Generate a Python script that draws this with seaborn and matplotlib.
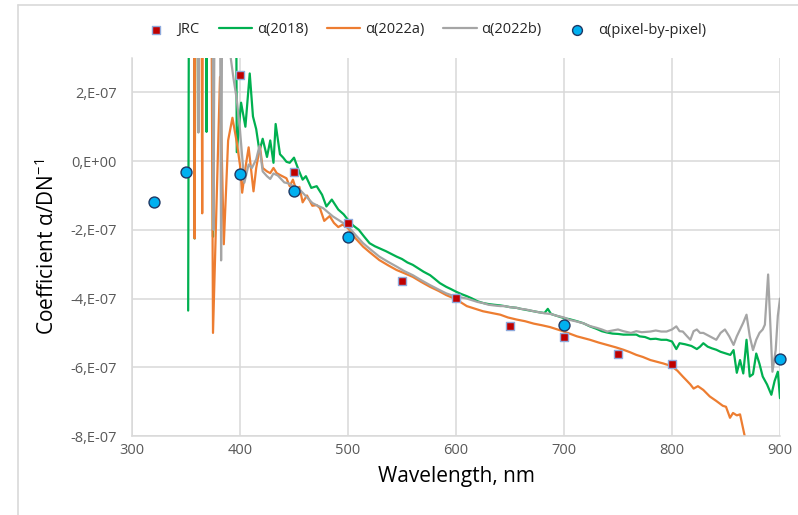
import matplotlib
matplotlib.use("Agg")
import matplotlib.pyplot as plt
import seaborn as sns
import numpy as np
from matplotlib.ticker import FuncFormatter
from matplotlib.lines import Line2D

# ---------------- data (coefficient values in units of 1E-07) ----------------
SCALE = 1e-7

jrc_wl = [400, 450, 500, 550, 600, 650, 700, 750, 800]
jrc_val = [2.5, -0.32, -1.81, -3.5, -3.98, -4.81, -5.12, -5.61, -5.9]

pix_wl = [320, 350, 400, 450, 500, 700, 900]
pix_val = [-1.2, -0.32, -0.38, -0.88, -2.22, -4.78, -5.77]

a2018_wl = [
    352, 353, 357, 358, 359, 368, 369, 370, 374, 375,
    376, 396, 397, 401, 405, 409, 412, 415, 418, 421,
    425, 428, 431, 433, 437, 440, 443, 446, 450, 454,
    458, 461, 466, 471, 476, 480, 485, 491, 496, 500,
    505, 510, 515, 520, 525, 530, 535, 540, 545, 550,
    555, 560, 565, 570, 576, 580, 585, 591, 595, 600,
    605, 610, 615, 620, 625, 630, 635, 641, 645, 650,
    656, 660, 665, 672, 677, 682, 685, 688, 693, 700,
    705, 712, 718, 724, 730, 735, 740, 745, 750, 755,
    760, 767, 770, 775, 780, 785, 790, 795, 800, 804,
    807, 812, 818, 823, 826, 829, 833, 837, 841, 845,
    850, 854, 857, 860, 863, 866, 869, 872, 875, 878,
    881, 884, 888, 892, 895, 898, 900]
a2018_val = [
    -4.35, 9, 9, -2.25, 9, 9, 0.85, 9, 9, -2.2,
    9, 9, 0.26, 1.7, 1.0, 2.55, 1.3, 0.93, 0.29, 0.65,
    0.12, 0.6, -0.05, 1.08, 0.2, 0.1, -0.02, -0.05, 0.1, -0.24,
    -0.54, -0.44, -0.78, -0.73, -0.98, -1.32, -1.12, -1.41, -1.55, -1.71,
    -1.88, -2.0, -2.2, -2.39, -2.48, -2.55, -2.62, -2.7, -2.78, -2.85,
    -2.95, -3.02, -3.12, -3.22, -3.32, -3.42, -3.55, -3.66, -3.72, -3.8,
    -3.87, -3.93, -4.0, -4.08, -4.13, -4.16, -4.18, -4.2, -4.22, -4.25,
    -4.27, -4.3, -4.33, -4.37, -4.4, -4.42, -4.3, -4.45, -4.5, -4.57,
    -4.6, -4.66, -4.72, -4.81, -4.88, -4.95, -4.99, -5.02, -5.03, -5.05,
    -5.05, -5.05, -5.1, -5.12, -5.18, -5.17, -5.2, -5.2, -5.25, -5.47,
    -5.3, -5.33, -5.38, -5.47, -5.4, -5.3, -5.4, -5.45, -5.49, -5.55,
    -5.6, -5.64, -5.5, -6.16, -5.79, -6.18, -5.2, -6.27, -6.2, -5.6,
    -5.9, -6.27, -6.5, -6.8, -6.4, -6.13, -6.9]

a2022a_wl = [
    357, 358, 359, 364, 365, 366, 373, 375, 381.5, 385,
    389, 393, 397, 400, 402, 405.5, 408, 412.5, 415, 418.5,
    421, 425, 428, 431, 434, 438, 443, 446, 449, 452,
    455, 458, 462, 467, 471, 474, 478, 483, 487, 491,
    495, 500, 507, 514, 520, 529, 537, 545, 552, 560,
    568, 576, 584, 591, 600, 610, 618, 625, 633, 641,
    648, 656, 664, 672, 680, 687, 694, 700, 706, 712,
    718, 724, 732, 740, 748, 755, 761, 767, 773, 780,
    786, 792, 796, 800, 805, 810, 814, 817, 820, 824,
    829, 835, 841, 847, 850, 853.7, 856.5, 860, 863, 868]
a2022a_val = [
    9, -2.25, 9, 9, -1.52, 9, 9, -5.0, 2.45, -2.42,
    0.6, 1.26, 0.55, -0.12, -0.92, -0.1, 0.4, -0.88, -0.2, 0.42,
    -0.2, -0.3, -0.35, -0.2, -0.35, -0.42, -0.5, -0.73, -0.54, -0.83,
    -0.75, -1.2, -1.0, -1.3, -1.28, -1.37, -1.74, -1.6, -1.8, -1.92,
    -1.85, -1.95, -2.25, -2.49, -2.65, -2.88, -3.03, -3.17, -3.26, -3.37,
    -3.52, -3.66, -3.78, -3.9, -4.02, -4.22, -4.3, -4.37, -4.42, -4.47,
    -4.55, -4.61, -4.66, -4.73, -4.78, -4.83, -4.9, -4.96, -5.03, -5.1,
    -5.15, -5.2, -5.28, -5.35, -5.42, -5.49, -5.56, -5.64, -5.7, -5.79,
    -5.84, -5.89, -5.93, -5.98, -6.1, -6.27, -6.4, -6.5, -6.62, -6.55,
    -6.66, -6.85, -6.98, -7.12, -7.15, -7.47, -7.33, -7.4, -7.37, -8.1]

a2022b_wl = [
    360, 361.5, 363, 374, 375.5, 377, 381, 382.5, 384, 390,
    391, 394, 397, 400, 404, 408, 411, 415, 418, 421,
    425, 428, 431, 435, 441, 445, 449, 455, 461, 467,
    472, 477, 486, 493, 500, 507, 514, 520, 529, 537,
    545, 552, 560, 568, 576, 584, 591, 600, 605, 610,
    615, 620, 625, 630, 635, 641, 645, 650, 656, 660,
    665, 672, 677, 682, 688, 693, 700, 705, 712, 718,
    724, 730, 735, 740, 745, 750, 755, 762, 767, 772,
    780, 785, 790, 795, 800, 804, 807, 810, 814, 817,
    820, 823, 826, 829, 835, 841, 845, 849, 853, 857,
    860, 863, 866, 869, 872, 875, 878, 881, 884, 886,
    889, 893, 896, 898, 900]
a2022b_val = [
    9, 0.83, 9, 9, -2.0, 9, 9, -2.89, 9, 9,
    3.1, 2.4, 1.8, 0.9, -0.63, -0.1, -0.2, 0.05, 0.44, -0.3,
    -0.44, -0.52, -0.36, -0.42, -0.62, -0.65, -0.72, -0.82, -1.02, -1.22,
    -1.3, -1.37, -1.61, -1.75, -1.9, -2.15, -2.39, -2.55, -2.78, -2.93,
    -3.07, -3.2, -3.32, -3.47, -3.61, -3.74, -3.85, -3.95, -3.97, -4.0,
    -4.05, -4.1, -4.13, -4.18, -4.2, -4.22, -4.22, -4.25, -4.27, -4.3,
    -4.32, -4.37, -4.4, -4.43, -4.45, -4.5, -4.55, -4.62, -4.67, -4.72,
    -4.8, -4.85, -4.9, -4.96, -4.93, -4.9, -4.95, -5.0, -4.95, -4.98,
    -4.96, -4.93, -4.96, -4.96, -4.9, -4.81, -4.95, -4.96, -5.1, -5.2,
    -4.95, -4.9, -5.0, -5.0, -5.1, -5.2, -5.0, -4.9, -5.1, -5.35,
    -5.1, -4.9, -4.7, -4.47, -5.1, -5.5, -5.2, -5.0, -4.9, -4.76,
    -3.3, -6.13, -5.5, -4.5, -4.0]

x_ticks = [300, 400, 500, 600, 700, 800, 900]
y_ticks = [-8, -6, -4, -2, 0, 2]

# ---------------- style ----------------
sns.set_theme(style="white")
plt.rcParams['font.family'] = ['Open Sans', 'DejaVu Sans']
plt.rcParams['mathtext.fontset'] = 'custom'
plt.rcParams['mathtext.rm'] = 'Open Sans'
plt.rcParams['mathtext.it'] = 'Open Sans:italic'
plt.rcParams['mathtext.bf'] = 'Open Sans:bold'

C_GREEN = '#00B050'
C_ORANGE = '#ED7D31'
C_GRAY = '#A5A5A5'
GRID = '#D9D9D9'

fig = plt.figure(figsize=(7.98, 5.15), dpi=100)
W, H = 798, 515
ax = fig.add_axes([132 / W, 1 - 436 / H, (780 - 132) / W, (436 - 58) / H])

def sc(v):
    return np.asarray(v, dtype=float) * SCALE

lw = 1.6
sns.lineplot(x=a2018_wl, y=sc(a2018_val), ax=ax, color=C_GREEN, lw=lw,
             label='α(2018)', estimator=None, sort=False, zorder=2)
sns.lineplot(x=a2022a_wl, y=sc(a2022a_val), ax=ax, color=C_ORANGE, lw=lw,
             label='α(2022a)', estimator=None, sort=False, zorder=2)
sns.lineplot(x=a2022b_wl, y=sc(a2022b_val), ax=ax, color=C_GRAY, lw=lw,
             label='α(2022b)', estimator=None, sort=False, zorder=2)
sns.scatterplot(x=jrc_wl, y=sc(jrc_val), ax=ax, marker='s', s=34,
                color='#C00000', edgecolor='#8FAADC', linewidth=1.0,
                label='JRC', zorder=5)
sns.scatterplot(x=pix_wl, y=sc(pix_val), ax=ax, marker='o', s=62,
                color='#00B0F0', edgecolor='#1F3864', linewidth=1.0,
                label='α(pixel-by-pixel)', zorder=6, clip_on=False)

ax.set_xlim(300, 900)
ax.set_ylim(-8e-7, 3e-7)
ax.set_xticks(x_ticks)
ax.set_yticks([t * SCALE for t in y_ticks])

def yfmt(v, pos):
    m = int(round(v / SCALE))
    return "0,E+00" if m == 0 else f"{m},E-07"

ax.yaxis.set_major_formatter(FuncFormatter(yfmt))
ax.grid(True, color=GRID, lw=1.1)
ax.set_axisbelow(True)
for s in ['top', 'right']:
    ax.spines[s].set_visible(False)
for s in ['left', 'bottom']:
    ax.spines[s].set_color(GRID)
    ax.spines[s].set_linewidth(1.1)
ax.tick_params(axis='both', length=0, labelsize=10.5, colors='#595959')
ax.tick_params(axis='y', pad=11)
ax.tick_params(axis='x', pad=5)

ax.set_xlabel('Wavelength, nm', fontsize=15, color='#000000', labelpad=6)
ax.set_ylabel(r'Coefficient α/DN$^{-1}$', fontsize=15, color='#000000', labelpad=8)

handles, labels = ax.get_legend_handles_labels()
order = ['JRC', 'α(2018)', 'α(2022a)', 'α(2022b)', 'α(pixel-by-pixel)']
hmap = dict(zip(labels, handles))
ax.legend_.remove()
fig.legend([hmap[k] for k in order], order, loc='center',
           bbox_to_anchor=(0.53, 1 - 30 / H), ncol=5, frameon=False,
           fontsize=10.5, handlelength=2.3, handletextpad=0.3,
           columnspacing=1.3, labelcolor='#262626', markerscale=0.9)

# chart-area border (top and left visible in the crop)
fig.add_artist(Line2D([18 / W, 1], [1 - 5 / H, 1 - 5 / H],
                      transform=fig.transFigure, color=GRID, lw=1.2))
fig.add_artist(Line2D([18 / W, 18 / W], [0, 1 - 5 / H],
                      transform=fig.transFigure, color=GRID, lw=1.2))

fig.savefig('out.png', dpi=100)
